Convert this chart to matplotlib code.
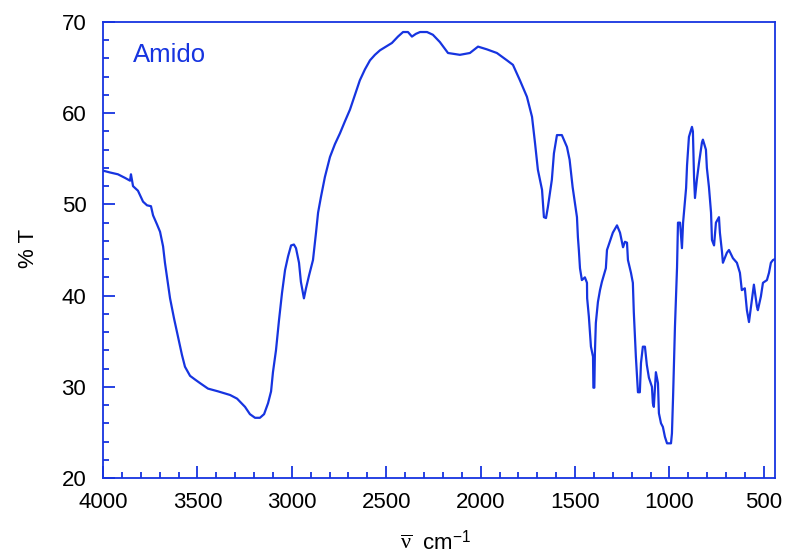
import matplotlib
matplotlib.use("Agg")
import matplotlib.pyplot as plt
from matplotlib.ticker import MultipleLocator

plt.rcParams['font.family'] = ['Liberation Sans', 'DejaVu Sans']
plt.rcParams['mathtext.fontset'] = 'custom'
plt.rcParams['mathtext.rm'] = 'Liberation Serif'
plt.rcParams['mathtext.sf'] = 'Liberation Sans'
plt.rcParams['mathtext.it'] = 'Liberation Serif:italic'

blue = '#1634e0'

# wavenumber (cm-1) and transmittance (%T)
wavenumber = [4000, 3963, 3921, 3883, 3857, 3852, 3841, 3815, 3788, 3767, 3746, 3735,
              3714, 3698, 3682, 3672, 3661, 3645, 3624, 3603, 3582, 3566, 3539, 3513,
              3486, 3444, 3391, 3327, 3290, 3248, 3222, 3195, 3169, 3147, 3126, 3110,
              3100, 3084, 3068, 3052, 3036, 3020, 3004, 2989, 2978, 2962, 2952, 2936,
              2925, 2909, 2888, 2872, 2861, 2846, 2825, 2798, 2772, 2745, 2719, 2692,
              2666, 2640, 2613, 2586, 2560, 2533, 2501, 2470, 2438, 2411, 2385, 2364,
              2343, 2321, 2284, 2253, 2216, 2173, 2110, 2057, 2014, 1967, 1914, 1861,
              1829, 1792, 1755, 1728, 1712, 1697, 1675, 1665, 1654, 1644, 1623, 1612,
              1596, 1570, 1543, 1529, 1513, 1490, 1485, 1480, 1474, 1464, 1448, 1437,
              1436, 1427, 1416, 1405, 1403, 1398, 1395, 1390, 1379, 1368, 1358, 1337,
              1331, 1326, 1300, 1278, 1262, 1246, 1236, 1225, 1220, 1204, 1194, 1189,
              1178, 1167, 1157, 1151, 1141, 1130, 1120, 1109, 1093, 1088, 1083, 1072,
              1061, 1056, 1045, 1035, 1024, 1013, 992, 987, 981, 971, 960, 955,
              944, 934, 928, 912, 907, 897, 881, 876, 870, 865, 855, 844,
              828, 823, 807, 802, 791, 780, 775, 764, 754, 738, 733, 722,
              717, 696, 685, 664, 643, 627, 617, 601, 590, 579, 564, 553,
              537, 532, 516, 505, 484, 473, 463, 452, 441]
transmittance = [53.7, 53.5, 53.3, 52.9, 52.6, 53.3, 52.0, 51.5, 50.3, 49.9, 49.8, 48.8,
                 47.8, 47.0, 45.4, 43.6, 42.0, 39.7, 37.5, 35.5, 33.5, 32.2, 31.2, 30.8,
                 30.4, 29.8, 29.5, 29.1, 28.7, 27.8, 27.0, 26.6, 26.6, 27.0, 28.2, 29.5,
                 31.6, 34.0, 37.3, 40.3, 42.8, 44.3, 45.5, 45.6, 45.2, 43.6, 41.5, 39.7,
                 40.8, 42.2, 43.9, 46.9, 49.1, 50.8, 53.0, 55.2, 56.6, 57.8, 59.1, 60.4,
                 62.0, 63.6, 64.8, 65.8, 66.4, 66.9, 67.3, 67.7, 68.4, 68.9, 68.9, 68.4,
                 68.7, 68.9, 68.9, 68.6, 67.8, 66.6, 66.4, 66.6, 67.3, 67.0, 66.6, 65.8,
                 65.3, 63.6, 61.8, 59.6, 56.7, 53.8, 51.6, 48.6, 48.5, 49.7, 52.7, 55.6,
                 57.6, 57.6, 56.3, 54.9, 51.9, 48.6, 46.4, 45.0, 43.0, 41.7, 42.0, 41.4,
                 39.7, 37.7, 34.4, 33.3, 29.9, 29.9, 33.7, 37.0, 39.3, 40.6, 41.5, 43.0,
                 45.0, 45.3, 46.9, 47.7, 46.9, 45.3, 45.9, 45.8, 43.9, 42.5, 41.4, 38.2,
                 33.3, 29.4, 29.4, 32.6, 34.4, 34.4, 32.4, 31.0, 30.0, 28.2, 27.8, 31.6,
                 30.4, 27.1, 26.0, 25.6, 24.5, 23.8, 23.8, 24.9, 28.9, 36.6, 43.1, 48.0,
                 48.0, 45.2, 48.0, 51.8, 54.3, 57.4, 58.5, 58.0, 53.0, 50.7, 52.7, 54.5,
                 56.8, 57.1, 56.0, 54.0, 51.9, 49.1, 46.1, 45.5, 48.0, 48.6, 46.9, 44.8,
                 43.6, 44.7, 45.0, 44.1, 43.6, 42.5, 40.6, 40.8, 38.4, 37.1, 39.5, 41.2,
                 38.8, 38.4, 39.9, 41.4, 41.7, 42.5, 43.6, 43.9, 44.0]

fig = plt.figure(figsize=(7.87, 5.54), dpi=100)
ax = fig.add_axes([0.1309, 0.1372, 0.8539, 0.8231])

ax.plot(wavenumber, transmittance, color=blue, linewidth=1.6)

ax.set_xlim(4000, 441)
ax.set_ylim(20, 70)
ax.xaxis.set_major_locator(MultipleLocator(500))
ax.xaxis.set_minor_locator(MultipleLocator(100))
ax.yaxis.set_major_locator(MultipleLocator(10))
ax.yaxis.set_minor_locator(MultipleLocator(2))

for s in ax.spines.values():
    s.set_color(blue)
    s.set_linewidth(1.3)
ax.tick_params(which='both', direction='in', color=blue, width=1.3,
               top=False, right=False, labelsize=16, labelcolor='black')
ax.tick_params(which='major', length=8.6)
ax.tick_params(which='minor', length=4.3)
ax.tick_params(axis='x', pad=10)
ax.tick_params(axis='y', pad=12)

ax.text(0.0446, 0.928, 'Amido', transform=ax.transAxes, color=blue,
        fontsize=18.5, ha='left', va='center')

fig.text(28 / 787, 1 - 248 / 554, '% T', rotation=90, ha='center', va='center', fontsize=16)
fig.text(436 / 787, 1 - 542 / 554, r'$\overline{\mathrm{\nu}}$  cm$^{\mathsf{-1}}$',
         ha='center', va='center', fontsize=16)

fig.savefig('out.png', dpi=100)
